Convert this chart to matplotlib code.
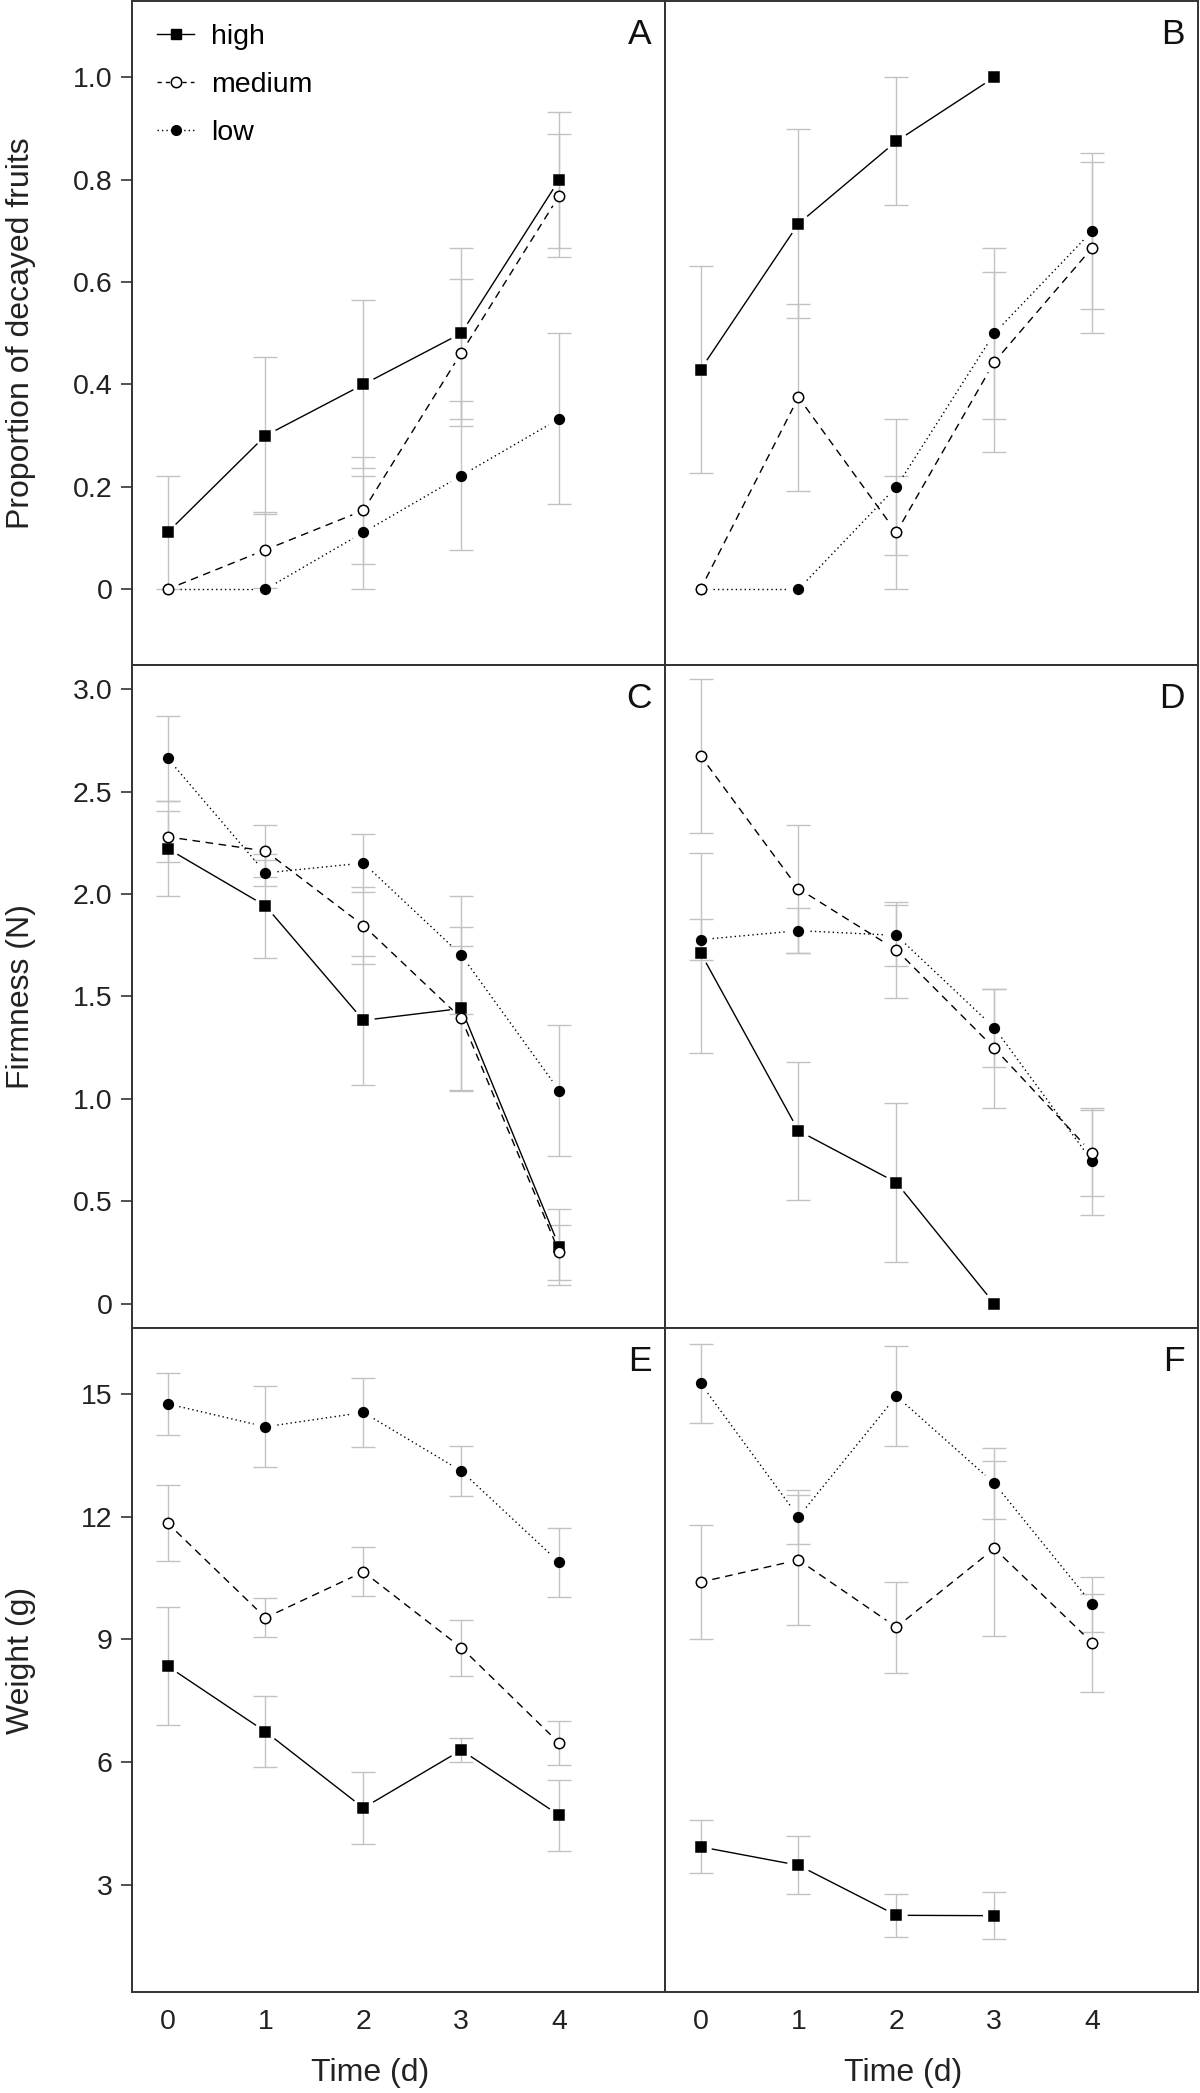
import numpy as np
import matplotlib.pyplot as plt
from matplotlib.lines import Line2D

plt.rcParams['font.family'] = ['Liberation Sans', 'DejaVu Sans']

nan = np.nan
days = [0, 1, 2, 3, 4]

# A - proportion of decayed fruits (left column)
decay_a_high = [0.111, 0.300, 0.400, 0.500, 0.800]
decay_a_high_se = [0.111, 0.154, 0.164, 0.167, 0.133]
decay_a_medium = [0.0, 0.077, 0.154, 0.462, 0.769]
decay_a_medium_se = [nan, 0.074, 0.105, 0.144, 0.121]
decay_a_low = [0.0, 0.0, 0.111, 0.222, 0.333]
decay_a_low_se = [nan, nan, 0.111, 0.146, 0.167]

# B - proportion of decayed fruits (right column)
decay_b_high = [0.429, 0.714, 0.875, 1.0, nan]
decay_b_high_se = [0.202, 0.184, 0.125, nan, nan]
decay_b_medium = [0.0, 0.375, 0.111, 0.444, 0.667]
decay_b_medium_se = [nan, 0.183, 0.111, 0.176, 0.167]
decay_b_low = [0.0, 0.0, 0.200, 0.500, 0.700]
decay_b_low_se = [nan, nan, 0.133, 0.167, 0.153]

# C - firmness (left)
firm_c_high = [2.222, 1.942, 1.383, 1.441, 0.278]
firm_c_high_se = [0.232, 0.254, 0.314, 0.400, 0.186]
firm_c_medium = [2.279, 2.210, 1.846, 1.393, 0.251]
firm_c_medium_se = [0.125, 0.129, 0.188, 0.355, 0.135]
firm_c_low = [2.663, 2.103, 2.151, 1.702, 1.040]
firm_c_low_se = [0.207, 0.065, 0.140, 0.290, 0.318]

# D - firmness (right)
firm_d_high = [1.713, 0.844, 0.591, 0.0, nan]
firm_d_high_se = [0.487, 0.336, 0.390, nan, nan]
firm_d_medium = [2.675, 2.026, 1.727, 1.247, 0.735]
firm_d_medium_se = [0.375, 0.313, 0.235, 0.290, 0.210]
firm_d_low = [1.777, 1.821, 1.798, 1.347, 0.695]
firm_d_low_se = [0.100, 0.110, 0.150, 0.190, 0.260]

# E - weight (left)
weight_e_high = [8.35, 6.75, 4.89, 6.30, 4.71]
weight_e_high_se = [1.44, 0.86, 0.87, 0.30, 0.86]
weight_e_medium = [11.84, 9.53, 10.65, 8.80, 6.47]
weight_e_medium_se = [0.93, 0.48, 0.60, 0.68, 0.54]
weight_e_low = [14.75, 14.19, 14.54, 13.11, 10.88]
weight_e_low_se = [0.76, 0.99, 0.85, 0.60, 0.84]

# F - weight (right)
weight_f_high = [3.94, 3.49, 2.27, 2.26, nan]
weight_f_high_se = [0.65, 0.71, 0.52, 0.57, nan]
weight_f_medium = [10.40, 10.94, 9.30, 11.22, 8.92]
weight_f_medium_se = [1.39, 1.58, 1.11, 2.14, 1.20]
weight_f_low = [15.25, 11.99, 14.94, 12.81, 9.86]
weight_f_low_se = [0.96, 0.66, 1.23, 0.86, 0.67]

decay_ticks = [0, 0.2, 0.4, 0.6, 0.8, 1.0]
decay_labels = ['0', '0.2', '0.4', '0.6', '0.8', '1.0']
firm_ticks = [0, 0.5, 1.0, 1.5, 2.0, 2.5, 3.0]
firm_labels = ['0', '0.5', '1.0', '1.5', '2.0', '2.5', '3.0']
weight_ticks = [3, 6, 9, 12, 15]
weight_labels = ['3', '6', '9', '12', '15']

STYLES = {
    'high': dict(marker='s', ms=7, mfc='black', mec='black', ls='-', z=6),
    'medium': dict(marker='o', ms=7.5, mfc='white', mec='black', ls=(0, (5.5, 4)), z=7),
    'low': dict(marker='o', ms=7, mfc='black', mec='black', ls=(0, (1, 2.2)), z=5),
}


def gapped_line(ax, x, y, ls, gap=12):
    # R type="b": lines stop short of the points
    pts = ax.transData.transform(np.column_stack([x, y]))
    inv = ax.transData.inverted()
    for p0, p1 in zip(pts[:-1], pts[1:]):
        if np.isnan(p0).any() or np.isnan(p1).any():
            continue
        d = p1 - p0
        length = np.hypot(*d)
        if length <= 2 * gap:
            continue
        u = d / length
        seg = inv.transform(np.array([p0 + u * gap, p1 - u * gap]))
        ax.plot(seg[:, 0], seg[:, 1], color='black', lw=1.0, ls=ls, zorder=3)


def draw_panel(ax, series, ylim, letter):
    ax.set_xlim(-0.363, 5.08)
    ax.set_ylim(*ylim)
    for name, (vals, se) in series.items():
        st = STYLES[name]
        ax.errorbar(days, vals, yerr=se, fmt='none', ecolor='#c2c2c2',
                    elinewidth=1.0, capsize=8.6, capthick=1.0, zorder=2)
        gapped_line(ax, days, vals, st['ls'])
        ax.plot(days, vals, ls='none', marker=st['marker'], ms=st['ms'],
                mfc=st['mfc'], mec=st['mec'], mew=1.1, zorder=st['z'])
    ax.text(1 - 13 / 533, 1 - 17 / 664, letter, transform=ax.transAxes,
            ha='right', va='top', fontsize=25.5, color='#111111')
    for sp in ax.spines.values():
        sp.set_color('#333333')
        sp.set_linewidth(1.4)
    ax.tick_params(axis='x', length=0, pad=12, labelsize=20.5, colors='#222222')
    ax.tick_params(axis='y', length=8, width=1.2, pad=6, labelsize=20.5,
                   colors='#333333', labelcolor='#222222')


fig = plt.figure(figsize=(12, 20.93), dpi=100)

W = 1200.0
H = 2093.0
col_left = [132 / W, 665 / W]
ax_w = 533 / W
rows = [(1, 665), (665, 1328), (1328, 1992)]

panels = [
    ('A', {'low': (decay_a_low, decay_a_low_se), 'medium': (decay_a_medium, decay_a_medium_se),
           'high': (decay_a_high, decay_a_high_se)}, (-0.148, 1.149)),
    ('B', {'low': (decay_b_low, decay_b_low_se), 'medium': (decay_b_medium, decay_b_medium_se),
           'high': (decay_b_high, decay_b_high_se)}, (-0.148, 1.149)),
    ('C', {'low': (firm_c_low, firm_c_low_se), 'medium': (firm_c_medium, firm_c_medium_se),
           'high': (firm_c_high, firm_c_high_se)}, (-0.119, 3.118)),
    ('D', {'low': (firm_d_low, firm_d_low_se), 'medium': (firm_d_medium, firm_d_medium_se),
           'high': (firm_d_high, firm_d_high_se)}, (-0.119, 3.118)),
    ('E', {'low': (weight_e_low, weight_e_low_se), 'medium': (weight_e_medium, weight_e_medium_se),
           'high': (weight_e_high, weight_e_high_se)}, (0.398, 16.6)),
    ('F', {'low': (weight_f_low, weight_f_low_se), 'medium': (weight_f_medium, weight_f_medium_se),
           'high': (weight_f_high, weight_f_high_se)}, (0.398, 16.6)),
]

yticks = [(decay_ticks, decay_labels), (firm_ticks, firm_labels), (weight_ticks, weight_labels)]
ylabels = ['Proportion of decayed fruits', 'Firmness (N)', 'Weight (g)']

axes = []
for i, (letter, series, ylim) in enumerate(panels):
    r, c = divmod(i, 2)
    top, bot = rows[r]
    ax = fig.add_axes([col_left[c], 1 - bot / H, ax_w, (bot - top) / H])
    draw_panel(ax, series, ylim, letter)
    ax.set_xticks(days)
    if r == 2:
        ax.set_xticklabels([str(d) for d in days])
        ax.text(0.447, -0.122, 'Time (d)', transform=ax.transAxes,
                ha='center', va='center', fontsize=23, color='#222222')
    else:
        ax.set_xticklabels([])
    if c == 0:
        ax.set_yticks(yticks[r][0])
        ax.set_yticklabels(yticks[r][1])
        fig.text(21 / W, 1 - (top + bot) / 2 / H, ylabels[r], rotation=90,
                 ha='center', va='center', fontsize=23, color='#222222')
    else:
        ax.set_yticks([])
    axes.append(ax)

handles = [
    Line2D([], [], color='black', lw=1.0, ls='-', marker='s', ms=7, mfc='black', mec='black'),
    Line2D([], [], color='black', lw=1.0, ls=(0, (3, 3)), marker='o', ms=7.5, mfc='white',
           mec='black', mew=1.1),
    Line2D([], [], color='black', lw=1.0, ls=(0, (1, 2.2)), marker='o', ms=7, mfc='black',
           mec='black'),
]
axes[0].legend(handles, ['high', 'medium', 'low'], loc='upper left',
               bbox_to_anchor=(0.047, 0.965), frameon=False, borderpad=0,
               borderaxespad=0, handlelength=1.3, handletextpad=0.6,
               labelspacing=0.76, fontsize=20.5)

fig.savefig('out.png', dpi=100)
